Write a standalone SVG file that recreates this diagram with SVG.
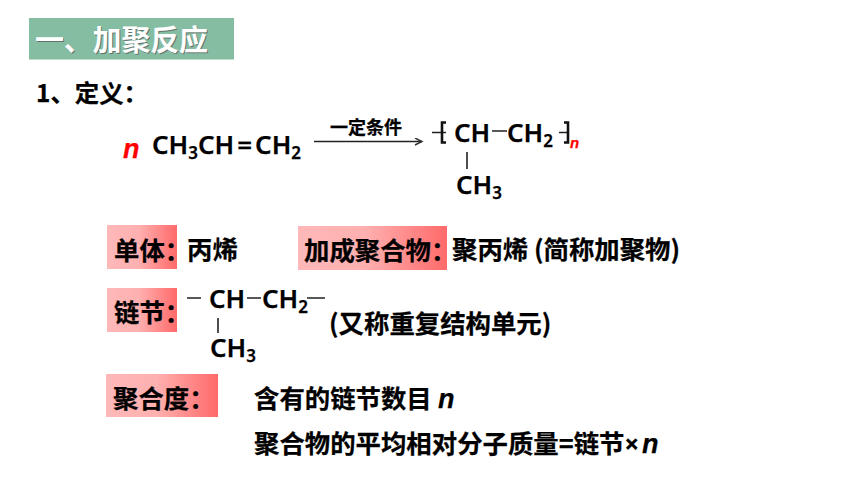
<svg xmlns="http://www.w3.org/2000/svg" width="860" height="484" viewBox="0 0 860 484">
<style>
text{font-family:"Noto Sans CJK SC","Noto Sans",sans-serif;font-weight:700;fill:#000;font-size:25.400px;stroke:#000;stroke-width:0.25}
.f{font-family:"Noto Sans","Noto Sans CJK SC",sans-serif;font-weight:600;font-size:26px}
.s{font-size:17px}
.n{font-family:"Liberation Sans",sans-serif;font-style:italic;font-weight:700}
.r{fill:#f00;stroke:#f00}
.l{stroke:#222;stroke-width:1.6;fill:none}
.b{stroke:#111;stroke-width:2.600;fill:none}
</style>
<defs>
<linearGradient id="g"><stop offset="0" stop-color="#ffb8b8"/><stop offset="0.45" stop-color="#ffb0b0"/><stop offset="1" stop-color="#ff6a6a"/></linearGradient>
<marker id="a" markerWidth="10" markerHeight="10" refX="8" refY="4" orient="auto" markerUnits="userSpaceOnUse"><path d="M1,0.500L8,4L1,7.500" fill="none" stroke="#333" stroke-width="1.400"/></marker>
</defs>
<rect width="860" height="484" fill="#fff"/>
<g id="title">
<rect x="29" y="18" width="205" height="41.500" fill="#85bda3"/>
<text x="36" y="52" style="font-size:29px;fill:#555;stroke:none" opacity="0.7" textLength="173">一、加聚反应</text>
<text x="35" y="51" style="font-size:29px;fill:#fff;stroke:none" textLength="173">一、加聚反应</text>
</g>
<text x="36" y="102" style="font-size:24.400px">1、定义：</text>
<g id="reactant">
<text x="123" y="158" class="n r" style="font-size:27px">n</text>
<text x="152" y="154" class="f">CH<tspan class="s" dy="5">3</tspan><tspan dy="-5">CH</tspan><tspan dx="3">=</tspan><tspan dx="3">CH</tspan><tspan class="s" dy="5">2</tspan></text>
</g>
<g id="connectors">
<line x1="314" y1="141.500" x2="422" y2="141.500" class="l" marker-end="url(#a)"/>
<path class="l" d="M432,132.500h14M492,131h15M559,132.500h10M467,152v17M218,318v15M247,298h14M187,298h14M307,298h18"/>
<path class="b" d="M446,122.500h-4v20h4M564,122.500h4v20h-4"/>
</g>
<text x="330" y="134" style="font-size:18px">一定条件</text>
<g id="polymer">
<text x="454" y="142" class="f">CH</text>
<text x="507" y="142" class="f">CH<tspan class="s" dy="5">2</tspan></text>
<text x="570" y="148" class="n r" style="font-size:15px">n</text>
<text x="456" y="194" class="f">CH<tspan class="s" dy="5">3</tspan></text>
</g>
<g id="monomer">
<rect x="107" y="225" width="70" height="44" fill="url(#g)"/>
<text x="114" y="260">单体：</text>
<text x="187" y="259">丙烯</text>
</g>
<g id="addition-polymer">
<rect x="298" y="226" width="149" height="44" fill="url(#g)"/>
<text x="304" y="260">加成聚合物：</text>
<text x="452" y="259">聚丙烯 (简称加聚物)</text>
</g>
<g id="chain-link">
<rect x="107" y="288" width="70" height="44" fill="url(#g)"/>
<text x="114" y="322">链节：</text>
<text x="209" y="308" class="f">CH</text>
<text x="262" y="308" class="f">CH<tspan class="s" dy="5">2</tspan></text>
<text x="210" y="357" class="f">CH<tspan class="s" dy="5">3</tspan></text>
<text x="329" y="333">(又称重复结构单元)</text>
</g>
<g id="degree">
<rect x="106" y="374" width="112" height="43" fill="url(#g)"/>
<text x="113" y="408">聚合度：</text>
<text x="254" y="408">含有的链节数目</text>
<text x="438" y="408" class="n" style="font-size:27px">n</text>
<text x="254" y="453">聚合物的平均相对分子质量=链节<tspan style="font-family:'Noto Sans',sans-serif">×</tspan><tspan class="n" dx="3" style="font-size:27px">n</tspan></text>
</g>
</svg>
